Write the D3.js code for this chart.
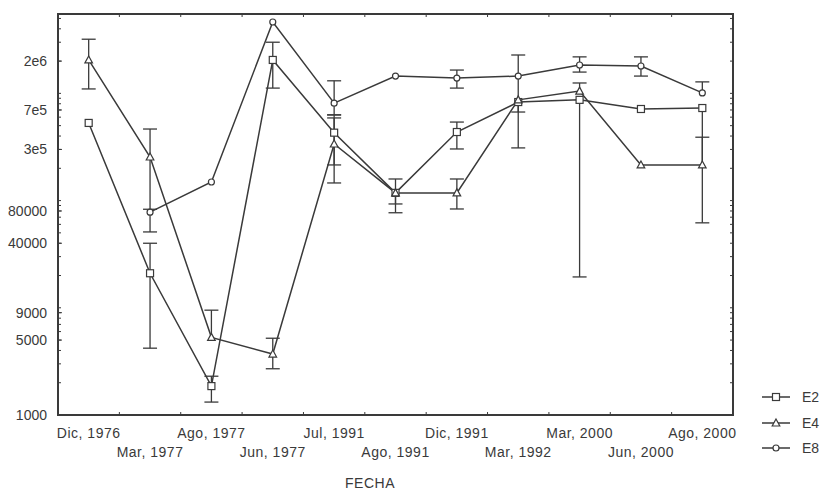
<!DOCTYPE html>
<html>
<head>
<meta charset="utf-8">
<script src="https://cdn.jsdelivr.net/npm/d3@7"></script>
<style>
  body { margin: 0; background: #fff; }
  svg text { font-family: "Liberation Sans", Arial, sans-serif; font-size: 14px; fill: #3a3a3a; }
</style>
</head>
<body>
<svg id="chart"></svg>
<script>
// Data
const categories = ['Dic, 1976', 'Mar, 1977', 'Ago, 1977', 'Jun, 1977', 'Jul, 1991', 'Ago, 1991',
  'Dic, 1991', 'Mar, 1992', 'Mar, 2000', 'Jun, 2000', 'Ago, 2000']

const yTickValues = [1000, 5000, 9000, 40000, 80000, 3e5, 7e5, 2e6]
const yTickLabels = ['1000', '5000', '9000', '40000', '80000', '3e5', '7e5', '2e6']

const e2Val = [5.3e5, 2.1e4, 1860, 2.05e6, 4.3e5, 1.18e5, 4.36e5, 8.3e5, 8.7e5, 7.15e5, 7.3e5]
const e2Hi = [null, 4.0e4, 2.3e3, 3.0e6, 6.3e5, 1.59e5, 5.4e5, null, null, null, null]
const e2Lo = [null, 4.2e3, 1.32e3, 1.12e6, 2.15e5, 9.3e4, 3.03e5, 6.7e5, 1.94e4, null, 6.2e4]

const e4Val = [2.05e6, 2.55e5, 5.3e3, 3.7e3, 3.37e5, 1.18e5, 1.18e5, 8.7e5, 1.05e6, 2.15e5, 2.15e5]
const e4Hi = [3.2e6, 4.65e5, 9.5e3, 5.2e3, 5.9e5, null, 1.59e5, 2.28e6, 1.25e6, null, 3.9e5]
const e4Lo = [1.1e6, 8.3e4, null, 2.7e3, 1.46e5, 7.7e4, 8.35e4, 3.1e5, null, null, null]

const e8Val = [null, 7.8e4, 1.49e5, 4.63e6, 8.1e5, 1.45e6, 1.39e6, 1.45e6, 1.84e6, 1.80e6, 1.01e6]
const e8Hi = [null, null, null, null, 1.31e6, null, 1.65e6, null, 2.19e6, 2.19e6, 1.28e6]
const e8Lo = [null, 5.1e4, null, null, 6.3e5, null, 1.12e6, null, 1.58e6, 1.45e6, null]

const seriesNames = ['E2', 'E4', 'E8']
const markerTypes = ['square', 'triangle', 'circle']

// Layout
const W = 823
const H = 491
const plot = { left: 58, right: 733, top: 14, bottom: 415 }
const ink = '#3a3a3a'

const series = [
  { name: seriesNames[0], marker: markerTypes[0], val: e2Val, hi: e2Hi, lo: e2Lo },
  { name: seriesNames[1], marker: markerTypes[1], val: e4Val, hi: e4Hi, lo: e4Lo },
  { name: seriesNames[2], marker: markerTypes[2], val: e8Val, hi: e8Hi, lo: e8Lo }
]

const svg = d3.select('#chart').attr('width', W).attr('height', H)

svg.append('rect').attr('width', W).attr('height', H).attr('fill', '#fff')

// Scales
const x = d3.scaleBand().domain(categories).range([plot.left, plot.right]).padding(0)
const cx = c => x(c) + x.bandwidth() / 2

const y = d3.scaleLog().domain([1000, 5.5e6]).range([plot.bottom, plot.top])

// Minor ticks on left and right (inward)
const minor = y.ticks().filter(v => v >= 1000 && v <= 5.5e6)
const tickG = svg.append('g').attr('stroke', ink).attr('stroke-width', 1)
tickG.selectAll('.ml').data(minor).enter().append('line')
  .attr('x1', plot.left).attr('x2', plot.left + 3)
  .attr('y1', d => y(d)).attr('y2', d => y(d))
tickG.selectAll('.mr').data(minor).enter().append('line')
  .attr('x1', plot.right).attr('x2', plot.right - 3)
  .attr('y1', d => y(d)).attr('y2', d => y(d))
tickG.selectAll('.mj').data(yTickValues).enter().append('line')
  .attr('x1', plot.left).attr('x2', plot.left + 4)
  .attr('y1', d => y(d)).attr('y2', d => y(d))

// x ticks at the band boundaries, top and bottom (inward)
const bounds = categories.slice(1)
tickG.selectAll('.xb').data(bounds).enter().append('line')
  .attr('x1', d => x(d)).attr('x2', d => x(d))
  .attr('y1', plot.bottom).attr('y2', plot.bottom - 3)
tickG.selectAll('.xt').data(bounds).enter().append('line')
  .attr('x1', d => x(d)).attr('x2', d => x(d))
  .attr('y1', plot.top).attr('y2', plot.top + 3)

// Y axis labels
const yAxis = d3.axisLeft(y)
  .tickValues(yTickValues)
  .tickFormat((d, i) => yTickLabels[i])
  .tickSize(0)
  .tickPadding(11)
const yg = svg.append('g').attr('transform', `translate(${plot.left},0)`).call(yAxis)
yg.select('.domain').remove()
yg.selectAll('text').attr('font-size', null).attr('font-family', null)

// X axis labels, in two alternating rows
const xAxis = d3.axisBottom(x).tickSize(0)
const xg = svg.append('g').attr('transform', `translate(0,${plot.bottom})`).call(xAxis)
xg.select('.domain').remove()
xg.selectAll('text')
  .attr('font-size', null).attr('font-family', null)
  .attr('letter-spacing', '0.5px')
  .attr('y', (d, i) => i % 2 === 0 ? 18 : 37)
  .attr('dy', '0.35em')

svg.append('text')
  .attr('x', 370).attr('y', 483).attr('dy', '0.35em')
  .attr('text-anchor', 'middle')
  .attr('letter-spacing', '0.5px')
  .text('FECHA')

// Frame
svg.append('rect')
  .attr('x', plot.left).attr('y', plot.top)
  .attr('width', plot.right - plot.left).attr('height', plot.bottom - plot.top)
  .attr('fill', 'none').attr('stroke', ink).attr('stroke-width', 2)

// Error bars
const capW = 7
const errG = svg.append('g').attr('stroke', ink).attr('stroke-width', 1.3).attr('fill', 'none')
series.forEach(s => {
  categories.forEach((c, i) => {
    const v = s.val[i]
    if (v == null) return
    const top = s.hi[i] != null ? s.hi[i] : v
    const bot = s.lo[i] != null ? s.lo[i] : v
    if (top === v && bot === v) return
    errG.append('line')
      .attr('x1', cx(c)).attr('x2', cx(c))
      .attr('y1', y(top)).attr('y2', y(bot))
    if (s.hi[i] != null) {
      errG.append('line')
        .attr('x1', cx(c) - capW).attr('x2', cx(c) + capW)
        .attr('y1', y(s.hi[i])).attr('y2', y(s.hi[i]))
    }
    if (s.lo[i] != null) {
      errG.append('line')
        .attr('x1', cx(c) - capW).attr('x2', cx(c) + capW)
        .attr('y1', y(s.lo[i])).attr('y2', y(s.lo[i]))
    }
  })
})

// Lines
const line = d3.line()
  .defined(d => d.v != null)
  .x(d => cx(d.c))
  .y(d => y(d.v))

series.forEach(s => {
  const pts = categories.map((c, i) => ({ c, v: s.val[i] }))
  svg.append('path')
    .datum(pts)
    .attr('d', line)
    .attr('fill', 'none')
    .attr('stroke', ink)
    .attr('stroke-width', 1.5)
})

// Markers
const drawMarker = (g, type, px, py) => {
  if (type === 'square') {
    g.append('rect').attr('x', px - 3.5).attr('y', py - 3.5).attr('width', 7).attr('height', 7)
  } else if (type === 'triangle') {
    g.append('path').attr('d', `M${px},${py - 4}L${px + 3.8},${py + 3}L${px - 3.8},${py + 3}Z`)
  } else {
    g.append('circle').attr('cx', px).attr('cy', py).attr('r', 3)
  }
}

const markG = svg.append('g').attr('fill', '#fff').attr('stroke', ink).attr('stroke-width', 1.2)
series.forEach(s => {
  categories.forEach((c, i) => {
    if (s.val[i] == null) return
    drawMarker(markG, s.marker, cx(c), y(s.val[i]))
  })
})

// Legend
const legendY = [397, 423, 448]
const legend = svg.append('g')
series.forEach((s, i) => {
  legend.append('line')
    .attr('x1', 762).attr('x2', 790)
    .attr('y1', legendY[i]).attr('y2', legendY[i])
    .attr('stroke', ink).attr('stroke-width', 1.5)
  const lg = legend.append('g').attr('fill', '#fff').attr('stroke', ink).attr('stroke-width', 1.2)
  drawMarker(lg, s.marker, 776, legendY[i])
  legend.append('text')
    .attr('x', 802).attr('y', legendY[i]).attr('dy', '0.35em')
    .text(s.name)
})
</script>
</body>
</html>
